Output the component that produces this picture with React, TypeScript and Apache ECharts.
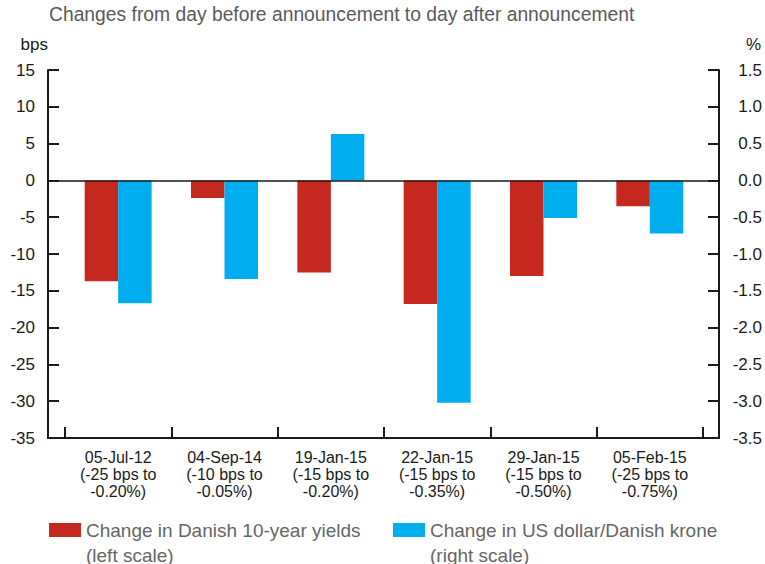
import React, { useEffect, useRef } from "react";
import * as echarts from "echarts";

const dates = ["05-Jul-12", "04-Sep-14", "19-Jan-15", "22-Jan-15", "29-Jan-15", "05-Feb-15"];
const cutSizes = ["-25 bps to", "-10 bps to", "-15 bps to", "-15 bps to", "-15 bps to", "-25 bps to"];
const newRates = ["-0.20%", "-0.05%", "-0.20%", "-0.35%", "-0.50%", "-0.75%"];

// Change in Danish 10-year yields, bps (left scale)
const danishYields = [-13.7, -2.4, -12.5, -16.8, -13.0, -3.5];
// Change in US dollar/Danish krone, % (right scale)
const usdDkk = [-1.67, -1.34, 0.63, -3.02, -0.51, -0.72];

const leftTicks = { min: -35, max: 15, interval: 5 };
const rightTicks = { min: -3.5, max: 1.5, interval: 0.5 };

const seriesNames = ["Change in Danish 10-year yields", "Change in US dollar/Danish krone"];
const seriesScales = ["(left scale)", "(right scale)"];

const FONT = "'Liberation Sans', Arial, Helvetica, sans-serif";
const AXIS = "#1a1a1a";
const RED = "#C4281F";
const BLUE = "#00AEEF";

export default function App() {
  const ref = useRef<HTMLDivElement>(null);
  useEffect(() => {
    if (!ref.current) return;
    const chart = echarts.init(ref.current, null, { renderer: "svg" });
    const categories = dates.map((d, i) => `${d}\n(${cutSizes[i]}\n${newRates[i]})`);
    const lineStyle = { color: AXIS, width: 2 };
    const legendText = {
      fontSize: 19,
      color: "#666666",
      fontFamily: FONT,
      lineHeight: 25,
    };
    chart.setOption({
      animation: false,
      textStyle: { fontFamily: FONT },
      title: {
        text: "Changes from day before announcement to day after announcement",
        left: 49,
        top: 5,
        padding: 0,
        textStyle: { fontSize: 19.3, fontWeight: "normal", color: "#5a5a5a", fontFamily: FONT },
      },
      grid: [
        { left: 48, right: 45, top: 70, bottom: 126 },
        { left: 65, right: 62, top: 70, bottom: 126 },
      ],
      xAxis: [
        {
          gridIndex: 0,
          type: "value",
          min: 0,
          max: 1,
          position: "bottom",
          axisLine: { show: true, onZero: false, lineStyle },
          axisTick: { show: false },
          axisLabel: { show: false },
          splitLine: { show: false },
        },
        {
          gridIndex: 0,
          type: "value",
          min: 0,
          max: 1,
          position: "top",
          z: 5,
          axisLine: { show: true, onZero: true, onZeroAxisIndex: 0, lineStyle: { color: AXIS, width: 1.5 } },
          axisTick: { show: false },
          axisLabel: { show: false },
          splitLine: { show: false },
        },
        {
          gridIndex: 1,
          type: "category",
          data: categories,
          position: "bottom",
          axisLine: { show: false, onZero: false },
          axisTick: { show: true, inside: true, length: 11, lineStyle },
          axisLabel: {
            interval: 0,
            margin: 11,
            fontSize: 16,
            lineHeight: 17,
            color: AXIS,
            fontFamily: FONT,
          },
          splitLine: { show: false },
        },
      ],
      yAxis: [
        {
          gridIndex: 0,
          type: "value",
          position: "left",
          ...leftTicks,
          name: "bps",
          nameLocation: "end",
          nameGap: 26,
          nameTextStyle: { align: "right", verticalAlign: "middle", fontSize: 17, color: AXIS, fontFamily: FONT },
          axisLine: { show: true, onZero: false, lineStyle },
          axisTick: { show: true, inside: true, length: 11, lineStyle },
          axisLabel: { margin: 13, fontSize: 17, color: AXIS, fontFamily: FONT },
          splitLine: { show: false },
        },
        {
          gridIndex: 0,
          type: "value",
          position: "right",
          ...rightTicks,
          name: "%",
          nameLocation: "end",
          nameGap: 26,
          nameTextStyle: {
            align: "left",
            verticalAlign: "middle",
            padding: [0, 0, 0, 27],
            fontSize: 17,
            color: AXIS,
            fontFamily: FONT,
          },
          axisLine: { show: true, onZero: false, lineStyle },
          axisTick: { show: true, inside: true, length: 11, lineStyle },
          axisLabel: {
            margin: 43,
            align: "right",
            fontSize: 17,
            color: AXIS,
            fontFamily: FONT,
            formatter: (v: number) => v.toFixed(1),
          },
          splitLine: { show: false },
        },
        { gridIndex: 1, type: "value", ...leftTicks, show: false, splitLine: { show: false } },
        { gridIndex: 1, type: "value", ...rightTicks, show: false, splitLine: { show: false } },
      ],
      legend: [
        {
          left: 49,
          top: 492.5,
          padding: 0,
          icon: "rect",
          itemWidth: 32,
          itemHeight: 14,
          data: [seriesNames[0]],
          formatter: (n: string) => `\n${n}\n${seriesScales[0]}`,
          textStyle: legendText,
        },
        {
          left: 393,
          top: 492.5,
          padding: 0,
          icon: "rect",
          itemWidth: 32,
          itemHeight: 14,
          data: [seriesNames[1]],
          formatter: (n: string) => `\n${n}\n${seriesScales[1]}`,
          textStyle: legendText,
        },
      ],
      series: [
        {
          name: seriesNames[0],
          type: "bar",
          xAxisIndex: 2,
          yAxisIndex: 2,
          data: danishYields,
          itemStyle: { color: RED },
          barGap: "0%",
          barCategoryGap: "37%",
        },
        {
          name: seriesNames[1],
          type: "bar",
          xAxisIndex: 2,
          yAxisIndex: 3,
          data: usdDkk,
          itemStyle: { color: BLUE },
          barGap: "0%",
          barCategoryGap: "37%",
        },
      ],
    });
    return () => chart.dispose();
  }, []);
  return <div ref={ref} style={{ width: 765, height: 564, position: "absolute", left: 0, top: 0 }} />;
}
